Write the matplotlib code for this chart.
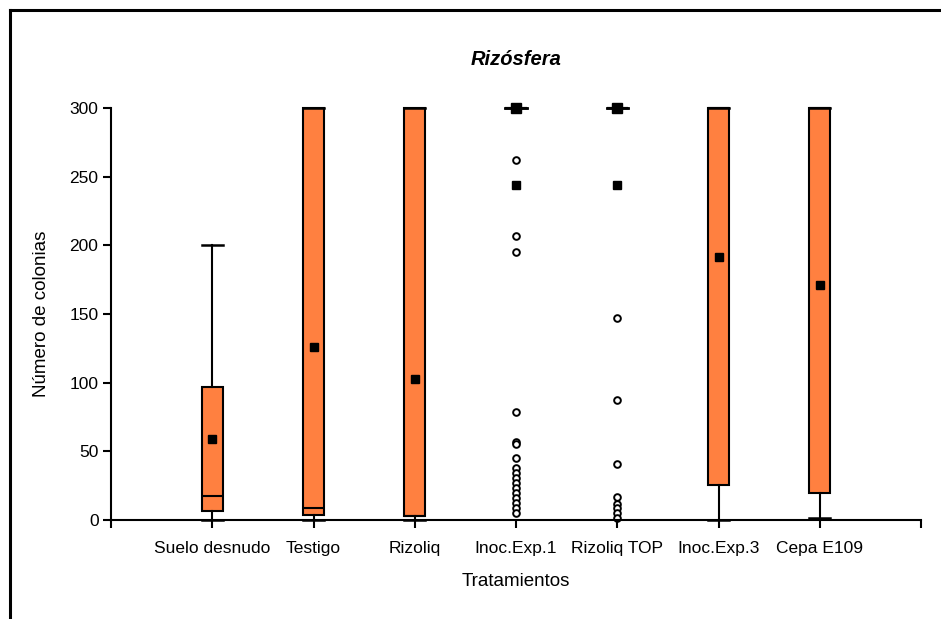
import matplotlib
matplotlib.use("Agg")
from matplotlib import pyplot as plt
from matplotlib.lines import Line2D

plt.rcParams['font.family'] = ['Liberation Sans', 'DejaVu Sans']

tratamientos = ["Suelo desnudo", "Testigo", "Rizoliq", "Inoc.Exp.1",
                "Rizoliq TOP", "Inoc.Exp.3", "Cepa E109"]

# resumen de cada caja: cuartiles, mediana, bigotes y media
q1 = [6.5, 3.6, 3.0, 300, 300, 25.5, 19.4]
mediana = [17.5, 9.0, 3.0, 300, 300, 300, 300]
q3 = [97, 300, 300, 300, 300, 300, 300]
bigote_inf = [0, 0, 0, 300, 300, 0, 1.7]
bigote_sup = [200, 300, 300, 300, 300, 300, 300]
media = [59, 126, 102.7, 244, 244, 191.6, 171]

# valores atipicos (circulos abiertos)
atipicos = [
    [],
    [],
    [],
    [262, 206.8, 195, 78.8, 57, 55.3, 45.3, 37.6, 34, 30.3, 26.7, 23,
     19.4, 15.8, 12.1, 8.5, 5.3],
    [147, 87.3, 40.7, 17, 12, 8.5, 4.9, 1.2],
    [],
    [],
]

# valores extremos marcados con cuadrado lleno
extremos = [[], [], [], [300], [300], [], []]

naranja = "#FF8040"

fig = plt.figure(figsize=(9.41, 6.19), dpi=100)
ax = fig.add_axes([111 / 941, 1 - 520 / 619, 810 / 941, 412 / 619])

stats = []
for i, nombre in enumerate(tratamientos):
    stats.append(dict(label=nombre, q1=q1[i], med=mediana[i], q3=q3[i],
                      whislo=bigote_inf[i], whishi=bigote_sup[i],
                      fliers=atipicos[i], mean=media[i]))

pos = list(range(1, len(tratamientos) + 1))
arts = ax.bxp(stats, positions=pos, widths=0.21, capwidths=0.21,
              patch_artist=True, showmeans=True, showfliers=True,
              boxprops=dict(facecolor=naranja, edgecolor="black", linewidth=1.5),
              medianprops=dict(color="black", linewidth=1.5),
              whiskerprops=dict(color="black", linewidth=1.5),
              capprops=dict(color="black", linewidth=1.8),
              meanprops=dict(marker="s", markerfacecolor="black",
                             markeredgecolor="black", markersize=6),
              flierprops=dict(marker="o", markerfacecolor="white",
                              markeredgecolor="black", markersize=4.8,
                              markeredgewidth=1.4))
for grupo in arts.values():
    for a in grupo:
        a.set_clip_on(False)

for p, ys in zip(pos, extremos):
    if ys:
        ax.plot([p] * len(ys), ys, linestyle="none", marker="s",
                markerfacecolor="black", markeredgecolor="black",
                markersize=6.5, clip_on=False, zorder=4)

ax.set_xlim(0, 8)
ax.set_ylim(0, 300)
ax.set_xticks(range(0, 9))
ax.set_xticklabels([""] + tratamientos + [""])
ax.set_yticks([0, 50, 100, 150, 200, 250, 300])
ax.tick_params(axis="both", direction="out", length=6, width=1.5,
               labelsize=12.5, pad=3)
ax.tick_params(axis="x", pad=9)
for lado in ["top", "right"]:
    ax.spines[lado].set_visible(False)
for lado in ["left", "bottom"]:
    ax.spines[lado].set_linewidth(1.5)

ax.set_xlabel("Tratamientos", fontsize=13.5, labelpad=12)
ax.set_ylabel("Número de colonias", fontsize=13.5, labelpad=14)
ax.set_title("Rizósfera", fontsize=14.5, fontweight="bold", style="italic",
             pad=31)

# marco de la figura (borde superior e izquierdo)
fig.add_artist(Line2D([10 / 941, 1], [1 - 10 / 619, 1 - 10 / 619],
                      color="black", linewidth=2.2, transform=fig.transFigure))
fig.add_artist(Line2D([10 / 941, 10 / 941], [1 - 10 / 619, 0],
                      color="black", linewidth=2.2, transform=fig.transFigure))

fig.savefig("out.png", dpi=100)
